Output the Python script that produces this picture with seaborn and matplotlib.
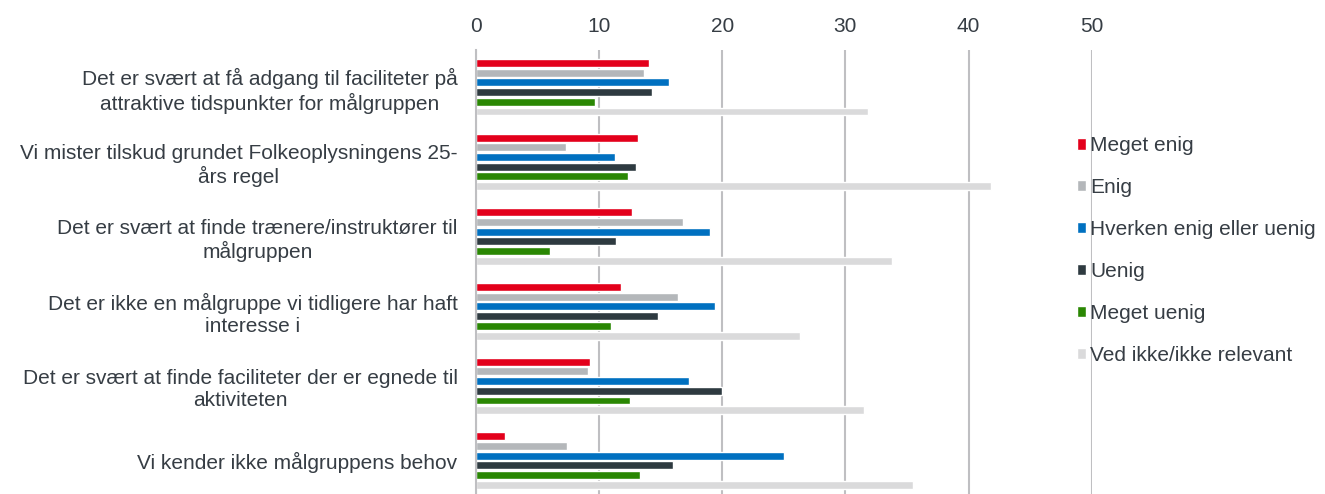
import matplotlib
matplotlib.use("Agg")
import matplotlib.pyplot as plt
import seaborn as sns
import pandas as pd

# Statements (top to bottom)
statements = [
    "Det er svært at få adgang til faciliteter på\nattraktive tidspunkter for målgruppen",
    "Vi mister tilskud grundet Folkeoplysningens 25-\nårs regel",
    "Det er svært at finde trænere/instruktører til\nmålgruppen",
    "Det er ikke en målgruppe vi tidligere har haft\ninteresse i",
    "Det er svært at finde faciliteter der er egnede til\naktiviteten",
    "Vi kender ikke målgruppens behov",
]

answers = ["Meget enig", "Enig", "Hverken enig eller uenig", "Uenig",
           "Meget uenig", "Ved ikke/ikke relevant"]

# Values per answer, one per statement
meget_enig = [14.1, 13.2, 12.7, 11.8, 9.3, 2.4]
enig = [13.7, 7.3, 16.8, 16.4, 9.1, 7.4]
hverken = [15.7, 11.3, 19.0, 19.4, 17.3, 25.0]
uenig = [14.3, 13.0, 11.4, 14.8, 20.0, 16.0]
meget_uenig = [9.7, 12.4, 6.0, 11.0, 12.5, 13.3]
ved_ikke = [31.8, 41.8, 33.8, 26.3, 31.5, 35.5]

colors = ["#E3001B", "#B4B7BA", "#0070C0", "#2E3A40", "#2A8703", "#DADADB"]

series = [meget_enig, enig, hverken, uenig, meget_uenig, ved_ikke]
rows = []
for answer, vals in zip(answers, series):
    for stmt, v in zip(statements, vals):
        rows.append({"Statement": stmt, "Answer": answer, "Value": v})
df = pd.DataFrame(rows)

sns.set_style("white")
plt.rcParams["font.family"] = ["Liberation Sans", "DejaVu Sans"]
text_color = "#363D44"
fs = 15

fig = plt.figure(figsize=(13.25, 4.94), dpi=100)
ax = fig.add_axes([0.359, -0.008, 0.465, 0.907])

sns.barplot(data=df, y="Statement", x="Value", hue="Answer", order=statements,
            hue_order=answers, palette=colors, orient="h", width=0.78, gap=0.18,
            saturation=1, ax=ax, legend=True)

ax.set_xlim(0, 50)
ax.set_xticks(range(0, 51, 10))
ax.xaxis.tick_top()
ax.set_xlabel("")
ax.set_ylabel("")
ax.grid(axis="x", color="#BFBFC2", linewidth=1.5)
ax.set_axisbelow(True)
for s in ["top", "right", "bottom"]:
    ax.spines[s].set_visible(False)
ax.spines["left"].set_color("#BFBFC2")
ax.spines["left"].set_linewidth(1.5)
ax.tick_params(axis="x", length=0, pad=10, labelsize=fs, labelcolor=text_color)
ax.tick_params(axis="y", length=0, pad=13, labelsize=fs, labelcolor=text_color)
for lbl in ax.get_yticklabels():
    lbl.set_multialignment("center")

handles, labels = ax.get_legend_handles_labels()
ax.legend(handles, labels, loc="center left", bbox_to_anchor=(0.945, 0.552),
          frameon=False, handlelength=0.45, handleheight=0.45, handletextpad=0.2,
          labelspacing=1.1, fontsize=fs, labelcolor=text_color)

fig.savefig("out.png", dpi=100)
